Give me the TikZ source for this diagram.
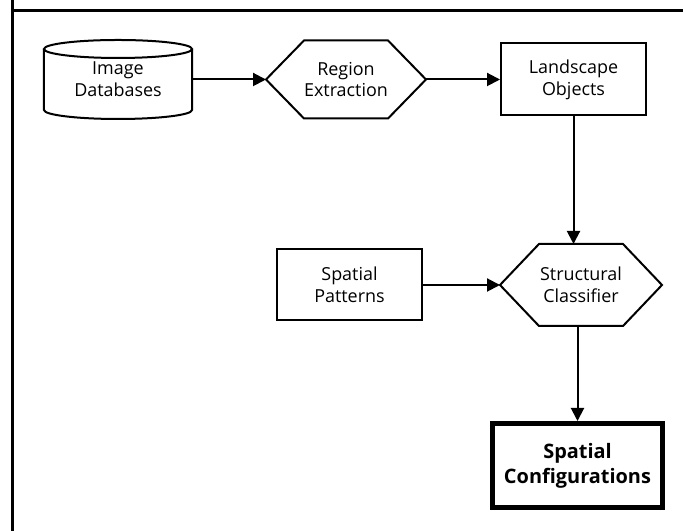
\documentclass[tikz,border=0pt]{standalone}
\usepackage{fontspec}
\setmainfont{Open Sans}
\usetikzlibrary{arrows.meta,positioning}

\begin{document}
\begin{tikzpicture}[
    x=1bp,y=1bp,
    label font/.style={font=\fontsize{18}{22}\selectfont},
    plain/.style={label font,align=center,inner sep=0pt,outer sep=0pt},
    store/.style={plain,minimum width=148bp,minimum height=79bp},
    proc/.style={plain,minimum width=160bp,minimum height=78bp},
    card/.style={label font,draw=black,line width=2bp,align=center,inner sep=0pt,minimum width=145bp,minimum height=72bp},
    result/.style={card,line width=5bp,minimum width=170bp,minimum height=84bp,font=\fontsize{20}{25}\selectfont\bfseries},
    flow/.style={line width=2bp,-{Triangle[length=13bp,width=13bp]}},
    node distance=74bp
  ]
  \useasboundingbox (0,0) rectangle (683,531);
  \clip (0,0) rectangle (683,531);
  % outer frame, only top and left edge fall inside the page
  \draw[line width=3.5bp] (12.5,700) |- (900,520.5) (12.5,-50) -- (12.5,520.5);

  \node[store] (db) at (118,451.5) {Image\\Databases};
  \node[proc,right=of db] (rx) {Region\\Extraction};
  \node[card,right=of rx] (lo) {Landscape\\Objects};
  \node[proc,minimum width=162bp,minimum height=82bp] (sc) at (581,246) {Structural\\Classifier};
  \node[card,left=77bp of sc,minimum height=71bp] (sp) {Spatial\\Patterns};
  \node[result,below=95bp of sc,xshift=-3.5bp] (cf) {Spatial\\Configurations};

  % drum and hexagons
  \draw[line width=2bp] ([yshift=-9bp]db.north west) -- ([yshift=9bp]db.south west)
    arc[start angle=180,end angle=360,x radius=74,y radius=9] -- ([yshift=-9bp]db.north east);
  \draw[line width=2bp] ([yshift=-9bp]db.north) ellipse[x radius=74,y radius=9];
  \draw[line width=2bp] (rx.west) -- ([xshift=38bp]rx.north west) -- ([xshift=-38bp]rx.north east)
    -- (rx.east) -- ([xshift=-38bp]rx.south east) -- ([xshift=38bp]rx.south west) -- cycle;
  \draw[line width=2bp] (sc.west) -- ([xshift=39bp]sc.north west) -- ([xshift=-39bp]sc.north east)
    -- (sc.east) -- ([xshift=-39bp]sc.south east) -- ([xshift=39bp]sc.south west) -- cycle;

  \draw[flow] (db.east) -- (rx.west);
  \draw[flow] (rx.east) -- (lo.west);
  \draw[flow] (lo.south) -- (lo.south |- sc.north);
  \draw[flow] (sp.east) -- (sc.west);
  \draw[flow] (sc.south -| cf.north) -- (cf.north);
\end{tikzpicture}
\end{document}
